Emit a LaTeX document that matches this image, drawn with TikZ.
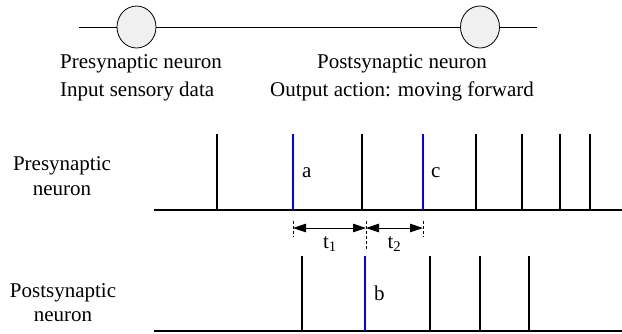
\documentclass[tikz,border=0pt]{standalone}
\usepackage{fontspec}
\setmainfont{Liberation Serif}
\usetikzlibrary{arrows.meta,shapes.geometric}
\begin{document}
\begin{tikzpicture}[x=1pt,y=-1pt,
  lbl/.style={font=\fontsize{21}{25}\selectfont, inner sep=0pt},
  spike/.style={line width=2pt, black},
  bspike/.style={line width=2pt, blue},
  baseln/.style={line width=2.5pt},
  neuron/.style={ellipse, draw, fill=gray!12, minimum width=39pt, minimum height=42pt, inner sep=0pt, line width=0.8pt},
  guide/.style={line width=1pt, dash pattern=on 3pt off 2pt},
  dimarrow/.style={{Triangle[length=13pt,width=8.5pt]}-{Triangle[length=13pt,width=8.5pt]}, line width=0.8pt}
]
\useasboundingbox (0,0) rectangle (622,333);
% top neurons
\coordinate (tl) at (79,27);
\coordinate (tr) at (537,27);
\draw[line width=0.8pt] (tl) -- (tr);
\node[neuron] (pre) at (136.5,27) {};
\node[neuron] (post) at (480,27) {};
\node[lbl, anchor=base west] (pre1) at (60,68) {Presynaptic neuron};
\node[lbl, anchor=base west] (pre2) at (60,96) {Input sensory data};
\node[lbl, anchor=base] (post1) at (402,68) {Postsynaptic neuron};
\node[lbl, anchor=base] (post2) at (402,96) {Output action: moving forward};
% row labels
\node[lbl, anchor=base] (rp1) at (62,170.5) {Presynaptic};
\node[lbl, anchor=base] (rp2) at (62,195) {neuron};
\node[lbl, anchor=base] (rq1) at (63,297.5) {Postsynaptic};
\node[lbl, anchor=base] (rq2) at (63,321.5) {neuron};
% presynaptic train
\coordinate (pb0) at (154,210);
\coordinate (pb1) at (622,210);
\draw[baseln] (pb0) -- (pb1);
\foreach \x in {217,362,476,522,560,590}
  \draw[spike] (\x,210) -- (\x,134);
\coordinate (A) at (293,210);
\coordinate (C) at (423,210);
\draw[bspike] (A) -- (293,134);
\draw[bspike] (C) -- (423,134);
\node[lbl, anchor=base west] (la) at (302,177) {a};
\node[lbl, anchor=base west] (lc) at (431,177) {c};
% postsynaptic train
\coordinate (qb0) at (154,331);
\coordinate (qb1) at (622,331);
\draw[baseln] (qb0) -- (qb1);
\foreach \x in {302,430,480,529}
  \draw[spike] (\x,331) -- (\x,256);
\coordinate (B) at (365,331);
\draw[bspike] (B) -- (365,256);
\node[lbl, anchor=base west] (lb) at (374,300) {b};
% timing
\coordinate (ga0) at (293,221); \coordinate (ga1) at (293,237);
\coordinate (gb0) at (366,221); \coordinate (gb1) at (366,249);
\coordinate (gc0) at (423,221); \coordinate (gc1) at (423,237);
\draw[guide] (ga0) -- (ga1);
\draw[guide] (gb0) -- (gb1);
\draw[guide] (gc0) -- (gc1);
\coordinate (da) at (293,228);
\coordinate (db) at (366,228);
\coordinate (dc) at (423,228);
\draw[dimarrow] (da) -- (db);
\draw[dimarrow] (db) -- (dc);
\node[lbl, anchor=base] (t1) at (330,248) {t\textsubscript{1}};
\node[lbl, anchor=base] (t2) at (394.5,248) {t\textsubscript{2}};
\end{tikzpicture}
\end{document}
